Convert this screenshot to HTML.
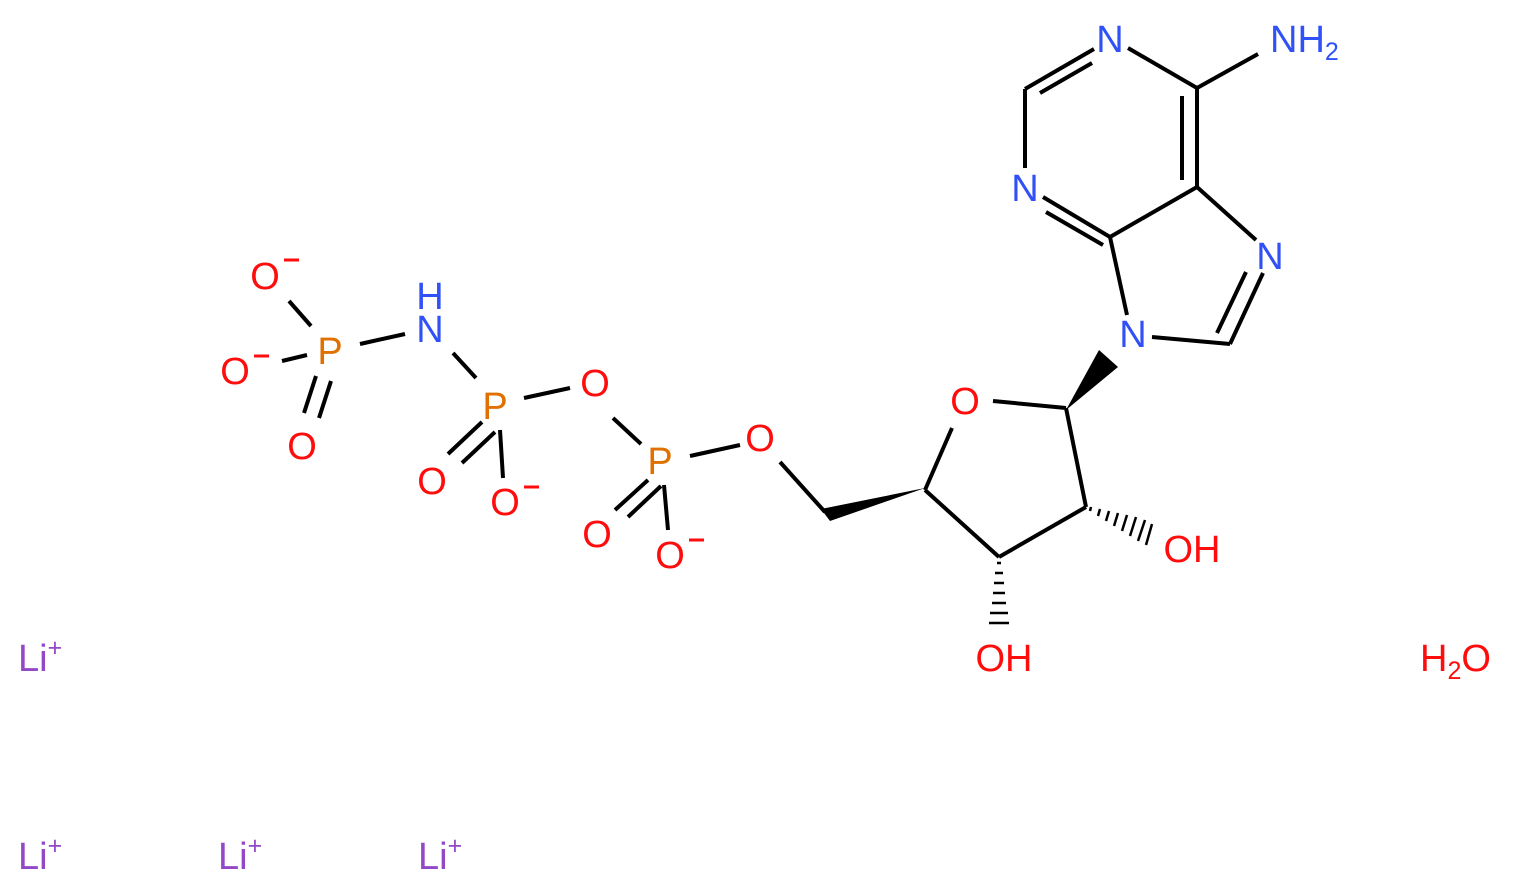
<!DOCTYPE html>
<html><head><meta charset="utf-8"><style>
html,body{margin:0;padding:0;background:#fff;}
svg{display:block;}
text{font-family:"Liberation Sans",sans-serif;font-size:38px;}
</style></head><body>
<svg width="1520" height="893" viewBox="0 0 1520 893" xmlns="http://www.w3.org/2000/svg">
<g stroke="#000" stroke-width="4" fill="none" stroke-linecap="butt">
<line x1="1094" y1="49" x2="1025" y2="89"/>
<line x1="1092" y1="63" x2="1040" y2="93"/>
<line x1="1025" y1="89" x2="1025" y2="168"/>
<line x1="1043" y1="197" x2="1110" y2="237"/>
<line x1="1046" y1="212" x2="1103" y2="245"/>
<line x1="1110" y1="237" x2="1197" y2="187"/>
<line x1="1197" y1="187" x2="1197" y2="88"/>
<line x1="1182" y1="180" x2="1182" y2="96"/>
<line x1="1197" y1="88" x2="1128" y2="48"/>
<line x1="1197" y1="88" x2="1258" y2="54"/>
<line x1="1110" y1="237" x2="1127" y2="315"/>
<line x1="1152" y1="337" x2="1230" y2="344"/>
<line x1="1230" y1="344" x2="1263" y2="273"/>
<line x1="1217" y1="333" x2="1246" y2="272"/>
<line x1="1256" y1="240" x2="1197" y2="187"/>
<line x1="993" y1="401" x2="1066" y2="408"/>
<line x1="1066" y1="408" x2="1086" y2="507"/>
<line x1="1086" y1="507" x2="999" y2="557"/>
<line x1="999" y1="557" x2="925" y2="490"/>
<line x1="925" y1="490" x2="952" y2="428"/>
<line x1="825" y1="512" x2="780" y2="462"/>
<line x1="740" y1="445" x2="690" y2="456"/>
<line x1="648" y1="480" x2="615" y2="510"/>
<line x1="661" y1="486" x2="628" y2="517"/>
<line x1="664" y1="485" x2="668" y2="530"/>
<line x1="641" y1="444" x2="613" y2="418"/>
<line x1="570" y1="388" x2="524" y2="398"/>
<line x1="482" y1="422" x2="448" y2="454"/>
<line x1="495" y1="432" x2="462" y2="463"/>
<line x1="500" y1="430" x2="503" y2="478"/>
<line x1="476" y1="378" x2="453" y2="353"/>
<line x1="405" y1="334" x2="360" y2="344"/>
<line x1="311" y1="326" x2="289" y2="301"/>
<line x1="307" y1="355" x2="282" y2="361"/>
<line x1="316" y1="376" x2="304" y2="413"/>
<line x1="331" y1="381" x2="319" y2="418"/>
</g>
<polygon points="1066,410 1099,350 1118,367" fill="#000"/>
<polygon points="925,488 821,509 830,521" fill="#000"/>
<g stroke="#000" stroke-width="2.5">
<line x1="1090" y1="511" x2="1091" y2="507"/>
<line x1="1098" y1="516" x2="1100" y2="509"/>
<line x1="1106" y1="521" x2="1109" y2="511"/>
<line x1="1114" y1="526" x2="1118" y2="513"/>
<line x1="1122" y1="531" x2="1127" y2="515"/>
<line x1="1130" y1="536" x2="1136" y2="517"/>
<line x1="1138" y1="541" x2="1145" y2="520"/>
<line x1="1146" y1="545" x2="1152" y2="524"/>
<line x1="997" y1="563" x2="1001" y2="563"/>
<line x1="995" y1="573" x2="1003" y2="573"/>
<line x1="994" y1="583" x2="1004" y2="583"/>
<line x1="993" y1="593" x2="1005" y2="593"/>
<line x1="992" y1="603" x2="1006" y2="603"/>
<line x1="990" y1="613" x2="1008" y2="613"/>
<line x1="989" y1="623" x2="1009" y2="623"/>
</g>
<g text-anchor="middle">
<text x="1110" y="52" fill="#3050F8">N</text>
<text x="1025" y="201" fill="#3050F8">N</text>
<text x="1270" y="269" fill="#3050F8">N</text>
<text x="1133" y="347" fill="#3050F8">N</text>
<text x="965" y="414" fill="#FF0D0D">O</text>
<text x="1192" y="562" fill="#FF0D0D">OH</text>
<text x="1004" y="671" fill="#FF0D0D">OH</text>
<text x="760" y="451" fill="#FF0D0D">O</text>
<text x="660" y="474" fill="#E07000">P</text>
<text x="597" y="547" fill="#FF0D0D">O</text>
<text x="670" y="568" fill="#FF0D0D">O</text>
<text x="595" y="396" fill="#FF0D0D">O</text>
<text x="495" y="419" fill="#E07000">P</text>
<text x="432" y="494" fill="#FF0D0D">O</text>
<text x="505" y="515" fill="#FF0D0D">O</text>
<text x="430" y="342" fill="#3050F8">N</text>
<text x="430" y="309" fill="#3050F8">H</text>
<text x="330" y="364" fill="#E07000">P</text>
<text x="265" y="289" fill="#FF0D0D">O</text>
<text x="235" y="384" fill="#FF0D0D">O</text>
<text x="302" y="459" fill="#FF0D0D">O</text>
</g>
<text x="1270" y="52" fill="#3050F8">NH<tspan font-size="25" dy="8">2</tspan></text>
<g stroke="#FF0D0D" stroke-width="3">
<line x1="284" y1="260" x2="299" y2="260"/>
<line x1="254" y1="356" x2="269" y2="356"/>
<line x1="524" y1="487" x2="539" y2="487"/>
<line x1="689" y1="540" x2="704" y2="540"/>
</g>
<g fill="#9448C8">
<text x="18" y="671">Li<tspan font-size="25" dy="-15">+</tspan></text>
<text x="18" y="869">Li<tspan font-size="25" dy="-15">+</tspan></text>
<text x="218" y="869">Li<tspan font-size="25" dy="-15">+</tspan></text>
<text x="418" y="869">Li<tspan font-size="25" dy="-15">+</tspan></text>
</g>
<text x="1420" y="671" fill="#FF0D0D">H<tspan font-size="25" dy="8">2</tspan><tspan dy="-8">O</tspan></text>
</svg>
</body></html>
